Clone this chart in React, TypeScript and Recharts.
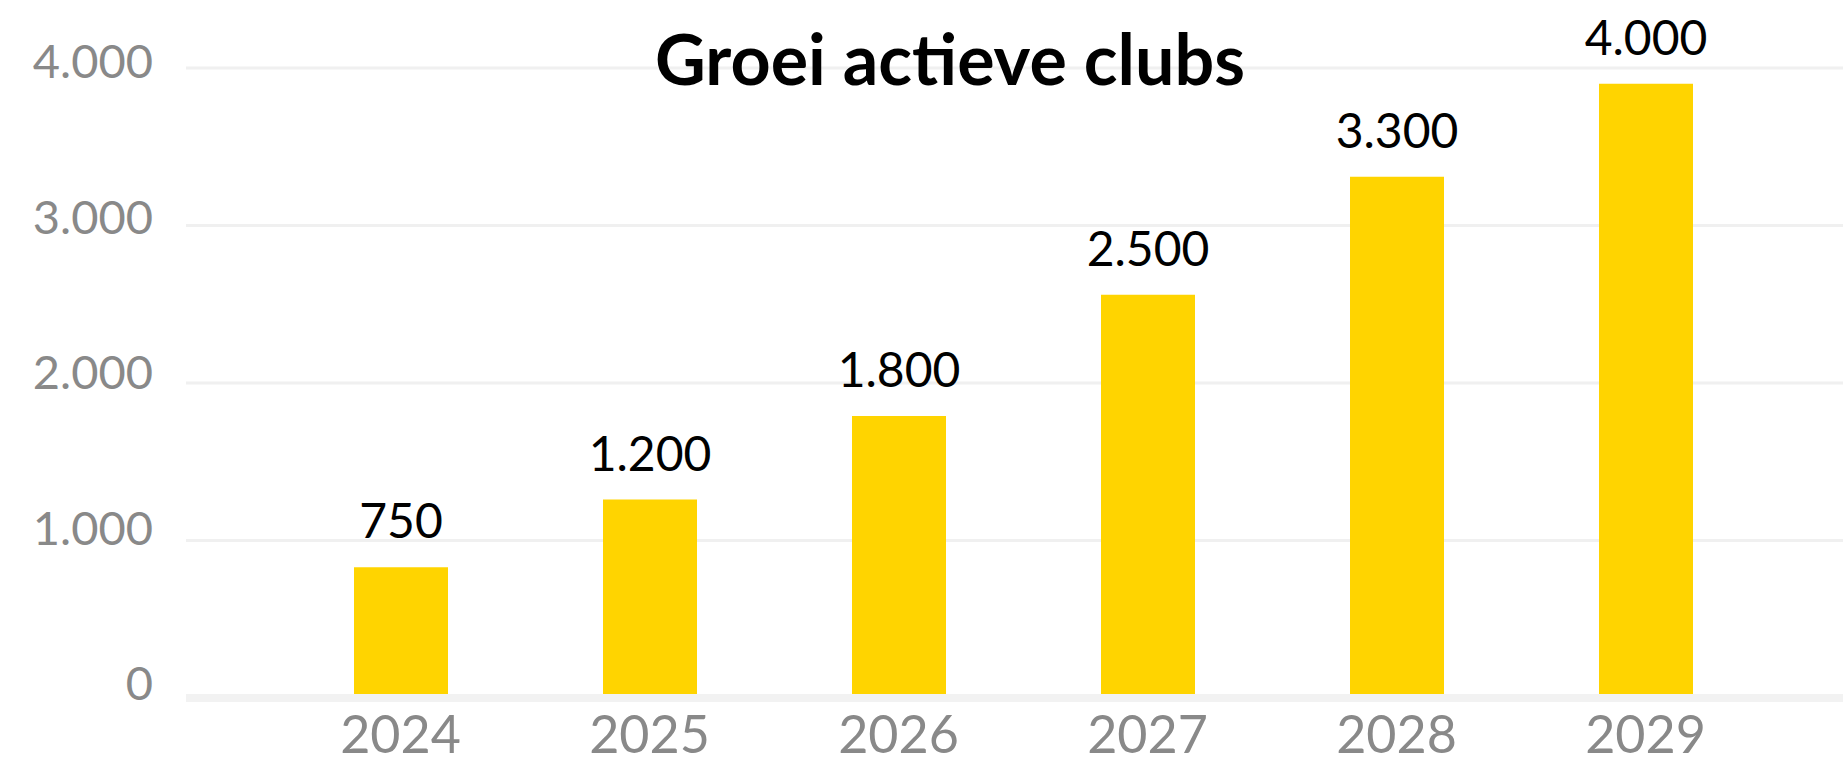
import { BarChart, Bar, XAxis, YAxis, CartesianGrid, LabelList, ReferenceLine } from "recharts";

const years = ["2024", "2025", "2026", "2027", "2028", "2029"];
// bar heights as drawn in the picture
const clubs = [830, 1260, 1790, 2560, 3310, 3900];
// the numbers printed above the bars
const clubLabels = ["750", "1.200", "1.800", "2.500", "3.300", "4.000"];
const yTicks = [0, 1000, 2000, 3000, 4000];

const rows = years.map((year, i) => ({ year, clubs: clubs[i], label: clubLabels[i] }));

const FONT = "Lato, 'Open Sans', sans-serif";
const GREY = "#898989";

// 4000 -> "4.000"
const fmt = (v: number) => v.toString().replace(/\B(?=(\d{3})+(?!\d))/g, ".");

// tick labels sit a little above their gridline, more so near the bottom
const YTick = ({ x, y, payload }: any) => (
  <text x={x} y={y} dy={2 + payload.value * 0.0021} textAnchor="end" fill={GREY} fontSize={47} fontFamily={FONT}>
    {fmt(payload.value)}
  </text>
);

const XTick = ({ x, y, payload }: any) => (
  <text x={x} y={y} dy={55} textAnchor="middle" fill={GREY} fontSize={52} fontFamily={FONT}>
    {payload.value}
  </text>
);

export default function App() {
  return (
    <div style={{ position: "absolute", left: 0, top: 0, width: 1843, height: 764, background: "#fff" }}>
      <BarChart width={1843} height={764} data={rows} margin={{ top: 68, right: 0, bottom: 0, left: 0 }}>
        <CartesianGrid vertical={false} stroke="#f0f0f0" strokeWidth={3} />
        <XAxis
          dataKey="year"
          axisLine={false}
          tickLine={false}
          tickSize={0}
          tickMargin={0}
          height={66}
          padding={{ left: 90, right: 73 }}
          tick={<XTick />}
        />
        <YAxis
          domain={[0, 4000]}
          ticks={yTicks}
          axisLine={false}
          tickLine={false}
          tickSize={0}
          tickMargin={33}
          width={186}
          tick={<YTick />}
        />
        <Bar dataKey="clubs" fill="#FFD400" barSize={94} isAnimationActive={false}>
          <LabelList dataKey="label" position="top" offset={29} fill="#000" fontSize={48} fontFamily={FONT} />
        </Bar>
        <ReferenceLine y={0} stroke="#f2f2f2" strokeWidth={8} />
      </BarChart>
      <svg width={1843} height={120} style={{ position: "absolute", left: 0, top: 0, pointerEvents: "none" }}>
        <text x={950} y={85} textAnchor="middle" fontSize={70} fontWeight={700} fontFamily={FONT} fill="#000">
          Groei actieve clubs
        </text>
      </svg>
    </div>
  );
}
